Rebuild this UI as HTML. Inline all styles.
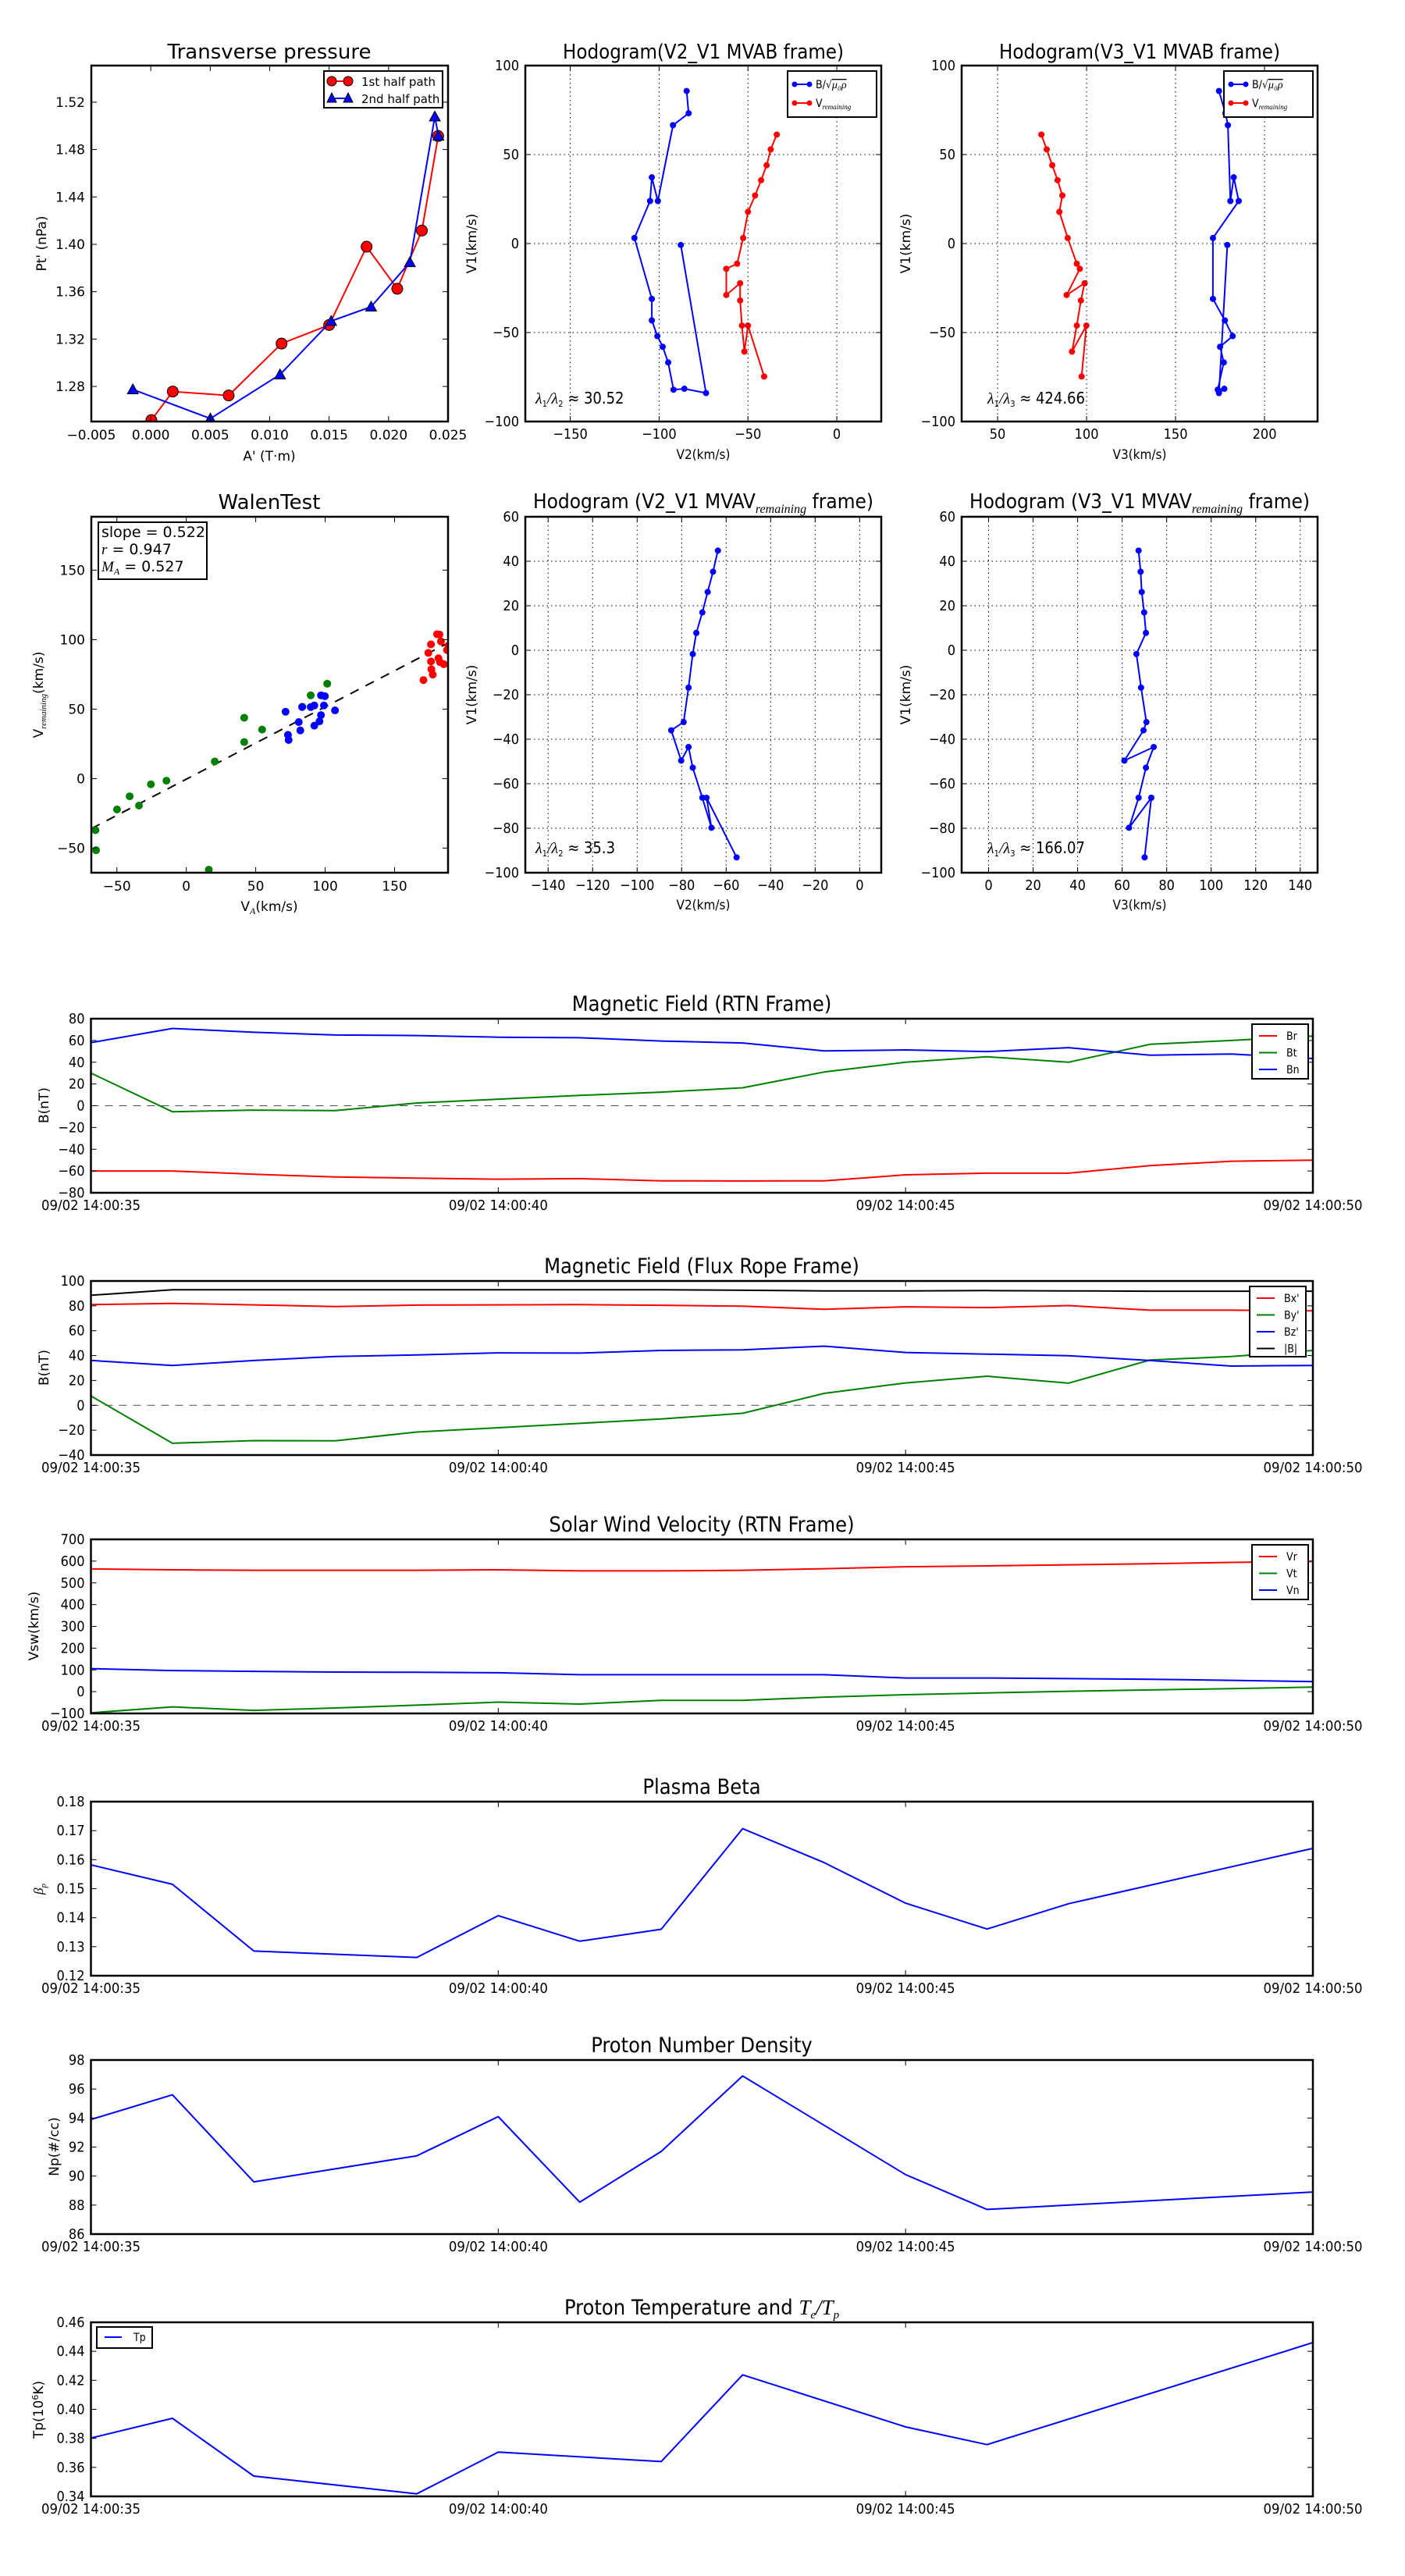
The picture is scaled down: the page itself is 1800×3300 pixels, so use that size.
<!DOCTYPE html>
<html><head><meta charset="utf-8">
<style>
html,body{margin:0;padding:0;background:#fff;}
svg{display:block;}
text{font-family:"DejaVu Sans","Liberation Sans",sans-serif;fill:#000;}
.n{font-family:"Liberation Sans Narrow","DejaVu Sans Condensed","Liberation Sans",sans-serif;}
.m{font-family:"Liberation Serif","DejaVu Serif",serif;font-style:italic;}
</style></head>
<body>
<svg id="fig" xmlns="http://www.w3.org/2000/svg" width="1800" height="3300" viewBox="0 0 1800 3300">
<rect x="0" y="0" width="1800" height="3300" fill="#fff"/>
</svg>
<script>
// ---------- Transverse pressure ----------
const tp1X=[0.00005,0.00185,0.00655,0.0110,0.0150,0.01815,0.02073,0.0228,0.02417];
const tp1Y=[1.2516,1.2757,1.2724,1.3162,1.3319,1.3980,1.3625,1.4116,1.4914];
const tp2X=[-0.00151,0.00501,0.01087,0.01517,0.01853,0.02179,0.02389,0.02419];
const tp2Y=[1.2775,1.2529,1.2901,1.3352,1.3473,1.3848,1.5078,1.4916];
const tpXTicks=[-0.005,0,0.005,0.01,0.015,0.02,0.025];
const tpXLabels=["\u22120.005","0.000","0.005","0.010","0.015","0.020","0.025"];
const tpYTicks=[1.28,1.32,1.36,1.40,1.44,1.48,1.52];
const tpYLabels=["1.28","1.32","1.36","1.40","1.44","1.48","1.52"];
// ---------- Hodogram MVAB ----------
const hbV1=[85.7,73.2,66.5,23.9,37.2,23.9,3.1,-31.1,-43.2,-52.0,-58.0,-66.8,-82.1,-81.6,-84.0,-0.8];
const hbV2=[-84.5,-83.4,-92.2,-100.7,-104.1,-105.1,-113.9,-104.1,-104.1,-101.0,-98.0,-94.9,-91.9,-85.8,-73.6,-87.8];
const hbV3=[174.4,178.0,179.4,180.8,182.7,185.5,171.0,171.0,177.7,182.1,175.0,177.1,173.7,177.4,174.4,179.1];
const hvV1=[61.2,52.9,44.0,35.6,27.0,17.8,3.1,-11.3,-14.2,-28.9,-22.3,-32.0,-46.1,-60.7,-46.1,-74.7];
const hvV2=[-33.8,-37.2,-39.5,-42.6,-46.0,-50.0,-52.7,-56.1,-62.2,-62.2,-54.4,-54.4,-53.4,-52.0,-50.0,-40.9];
const hvV3=[74.6,77.6,80.7,83.7,86.4,84.7,89.4,94.5,96.2,88.8,98.9,96.8,94.5,91.8,99.9,97.2];
// ---------- Hodogram MVAV ----------
const hrV1=[44.8,35.3,26.2,17.0,7.8,-1.7,-16.8,-32.3,-36.0,-49.6,-43.5,-52.8,-66.3,-79.8,-66.3,-93.1];
const hrV2=[-63.7,-65.9,-68.3,-70.7,-73.4,-75.0,-76.9,-79.1,-84.7,-80.2,-76.9,-75.0,-70.7,-66.6,-68.8,-55.3];
const hrV3=[67.4,68.3,68.8,69.9,70.7,66.4,68.5,70.9,69.6,61.0,74.2,70.7,67.4,63.1,73.1,70.1];
// ---------- Walen test ----------
const wGreenX=[-65.4,-65.0,-49.9,-40.8,-34.1,-25.5,-14.3,16.2,20.5,41.7,41.7,54.6,89.6,101.5,83.6];
const wGreenY=[-37.1,-51.5,-22.2,-12.7,-19.4,-4.1,-1.5,-65.5,12.3,43.8,26.3,35.3,59.9,68.3,51.7];
const wBlueX=[71.5,73.2,73.7,81.0,82.1,83.4,89.6,92.2,92.2,95.9,97.0,97.0,99.8,99.1,107.1];
const wBlueY=[48.1,31.5,27.8,40.7,34.7,51.5,51.5,52.6,38.1,41.2,45.7,59.9,59.3,52.6,49.1];
const wRedX=[170.8,174.3,176.2,176.5,177.5,176.2,180.6,182.3,181.6,182.7,183.4,185.5,187.7,188.8];
const wRedY=[70.9,90.5,96.6,78.7,74.8,84.3,103.9,103.7,86.6,83.8,98.7,82.3,92.5,95.7];
const wSlope=0.52, wIntercept=-0.4;
// ---------- time series ----------
const tSec=[35,36,37,38,39,40,41,42,43,44,45,46,47,48,49,50];
const timeTicks=[35,40,45,50];
const timeLabels=["09/02 14:00:35","09/02 14:00:40","09/02 14:00:45","09/02 14:00:50"];
const Br=[-60,-60,-63,-65.5,-66.5,-67.5,-67,-69,-69.2,-69,-63.5,-62,-62,-55,-51,-50];
const Bt=[30,-5.5,-4,-4.5,2.5,6,9.5,12.5,16.5,31,40,45,40,56.5,60,64];
const Bn=[58,71,67.5,65,64.5,63,62.5,59.5,57.7,50.4,51.3,49.8,53.4,46.4,47.6,43.4];
const Bx=[81,82,80.8,79.5,80.6,80.8,81,80.5,79.7,77.3,79.2,78.6,80.2,76.5,76.5,76];
const By=[7.5,-30.5,-28.4,-28.5,-21.5,-18,-14.5,-11,-6.4,9.6,18,23.4,17.8,36.4,39.3,44.1];
const Bz=[36.1,32.1,36,39.3,40.5,42.2,42,44.1,44.6,47.6,42.5,41.2,39.9,36,31.6,32.1];
const Bmag=[88.5,93,93,93,93,93,93,93,92.5,92,92,92.3,92,91.8,91.8,91.8];
const Vr=[564,560,558,558,558,560,555,555,558,565,574,578,583,588,594,599];
const Vt=[-97,-70,-86,-75,-62,-48,-57,-40,-40,-25,-14,-6,2,8,14,21];
const Vn=[106,97,93.5,90,89,87,78,78,78,78,63,63,60,57,52,46];
const betaT=[35,36,37,39,40,41,42,43,44,45,46,47,50];
const betaV=[0.1582,0.1515,0.1285,0.1263,0.1407,0.1319,0.1360,0.1707,0.1590,0.1450,0.1361,0.1448,0.1639];
const npT=[35,36,37,39,40,41,42,43,45,46,50];
const npV=[93.9,95.6,89.6,91.4,94.1,88.2,91.7,96.9,90.1,87.7,88.9];
const tpT=[35,36,37,39,40,42,43,45,46,50];
const tpV=[0.3802,0.3938,0.3540,0.3418,0.3705,0.3640,0.4238,0.3879,0.3757,0.4460];

const NS='http://www.w3.org/2000/svg';
const svg=document.getElementById('fig');
function el(tag,attrs,parent,name,inter){
  const e=document.createElementNS(NS,tag);
  for(const k in attrs) e.setAttribute(k,attrs[k]);
  
  
  (parent||svg).appendChild(e);
  return e;
}
function txt(str,x,y,opt,parent,name){
  const t=el('text',{x:x,y:y,'font-size':opt.fs||17,'text-anchor':opt.anchor||'middle'},parent,name,false);
  if(opt.cls) t.setAttribute('class',opt.cls);
  if(opt.rot) t.setAttribute('transform','rotate(-90 '+x+' '+y+')');
  if(opt.len){t.setAttribute('textLength',opt.len);t.setAttribute('lengthAdjust','spacingAndGlyphs');}
  if(opt.fill) t.setAttribute('fill',opt.fill);
  t.textContent=str;
  return t;
}
let clipN=0;
function axes(o){
  o.g=el('g',{},svg,o.name,false);
  o.sx=v=>o.L+(v-o.xmin)/(o.xmax-o.xmin)*(o.R-o.L);
  o.sy=v=>o.B-(v-o.ymin)/(o.ymax-o.ymin)*(o.B-o.T);
  const id='c'+(clipN++);
  const cp=el('clipPath',{id:id},o.g,'clip-region',false);
  el('rect',{x:o.L,y:o.T,width:o.R-o.L,height:o.B-o.T},cp,'clip-rect',false);
  o.data=el('g',{'clip-path':'url(#'+id+')'},o.g,'plot-area',false);
  return o;
}
function frame(o){
  el('rect',{x:o.L,y:o.T,width:o.R-o.L,height:o.B-o.T,fill:'none',stroke:'#000','stroke-width':2.5},o.g,'axes-frame',false);
}
function xticks(o,vals,labels,opt){
  const g=el('g',{},o.g,'x-axis',false);
  vals.forEach((v,i)=>{
    const x=o.sx(v);
    if(opt.grid) el('line',{x1:x,y1:o.T,x2:x,y2:o.B,stroke:'#000','stroke-width':1,'stroke-dasharray':'1.5,4'},g,'x-grid-line',false);
    el('line',{x1:x,y1:o.B,x2:x,y2:o.B-7,stroke:'#000','stroke-width':1},g,'x-tick',false);
    el('line',{x1:x,y1:o.T,x2:x,y2:o.T+7,stroke:'#000','stroke-width':1},g,'x-tick-top',false);
    txt(labels[i],x,o.B+(opt.dy||22),{fs:opt.fs||17,cls:opt.cls,len:opt.len},g,'x-tick-label');
  });
}
function yticks(o,vals,labels,opt){
  const g=el('g',{},o.g,'y-axis',false);
  vals.forEach((v,i)=>{
    const y=o.sy(v);
    if(opt.grid) el('line',{x1:o.L,y1:y,x2:o.R,y2:y,stroke:'#000','stroke-width':1,'stroke-dasharray':'1.5,4'},g,'y-grid-line',false);
    el('line',{x1:o.L,y1:y,x2:o.L+7,y2:y,stroke:'#000','stroke-width':1},g,'y-tick',false);
    el('line',{x1:o.R,y1:y,x2:o.R-7,y2:y,stroke:'#000','stroke-width':1},g,'y-tick-right',false);
    txt(labels[i],o.L-8,y+6,{fs:opt.fs||17,anchor:'end',cls:opt.cls},g,'y-tick-label');
  });
}
function line(o,xs,ys,color,name,w){
  const pts=xs.map((x,i)=>o.sx(x).toFixed(1)+','+o.sy(ys[i]).toFixed(1)).join(' ');
  return el('polyline',{points:pts,fill:'none',stroke:color,'stroke-width':w||2,'stroke-linejoin':'round'},o.data,name,false);
}
function dots(o,xs,ys,color,r,name,stroke){
  const g=el('g',{},o.data,name,false);
  xs.forEach((x,i)=>{
    const c=el('circle',{cx:o.sx(x),cy:o.sy(ys[i]),r:r,fill:color},g,name+'-point',false);
    if(stroke){c.setAttribute('stroke','#000');c.setAttribute('stroke-width',1);}
  });
}
function tris(o,xs,ys,color,s,name){
  const g=el('g',{},o.data,name,false);
  xs.forEach((x,i)=>{
    const cx=o.sx(x),cy=o.sy(ys[i]);
    el('polygon',{points:(cx)+','+(cy-s)+' '+(cx-s)+','+(cy+s*0.8)+' '+(cx+s)+','+(cy+s*0.8),fill:color,stroke:'#000','stroke-width':1},g,name+'-point',false);
  });
}
function range(a,b,s){const r=[];for(let v=a;v<=b+1e-9;v+=s)r.push(Math.round(v*1000)/1000);return r;}
function minus(v){return (v<0?'\u2212':'')+Math.abs(v);}

// ===== Transverse pressure =====
const A1=axes({name:'transverse-pressure-chart',L:117,R:574,T:84,B:540,xmin:-0.005,xmax:0.025,ymin:1.2504,ymax:1.5509});
xticks(A1,tpXTicks,tpXLabels,{fs:17,dy:23});
yticks(A1,tpYTicks,tpYLabels,{fs:17});
line(A1,tp1X,tp1Y,'#f00','first-half-path-line',2);
dots(A1,tp1X,tp1Y,'#f00',7,'first-half-path-markers',true);
line(A1,tp2X,tp2Y,'#00f','second-half-path-line',2);
tris(A1,tp2X,tp2Y,'#00f',7,'second-half-path-markers');
frame(A1);
txt('Transverse pressure',345,75,{fs:26},A1.g,'chart-title');
txt("A' (T\u00b7m)",345,590,{fs:17},A1.g,'x-axis-title');
txt("Pt' (nPa)",59,312,{fs:17,rot:true},A1.g,'y-axis-title');
{const lg=el('g',{},A1.g,'legend',false);
 el('rect',{x:415,y:91,width:152,height:47,fill:'#fff',stroke:'#000','stroke-width':2},lg,'legend-box',false);
 el('line',{x1:425,y1:104,x2:446,y2:104,stroke:'#f00','stroke-width':2},lg,'legend-line-first',false);
 el('circle',{cx:425,cy:104,r:6,fill:'#f00',stroke:'#000','stroke-width':1},lg,'legend-marker-first',false);
 el('circle',{cx:446,cy:104,r:6,fill:'#f00',stroke:'#000','stroke-width':1},lg,'legend-marker-first',false);
 txt('1st half path',463,110,{fs:15,anchor:'start'},lg,'legend-label-first');
 el('line',{x1:425,y1:126,x2:446,y2:126,stroke:'#00f','stroke-width':2},lg,'legend-line-second',false);
 el('polygon',{points:'425,119 419,131 431,131',fill:'#00f',stroke:'#000','stroke-width':1},lg,'legend-marker-second',false);
 el('polygon',{points:'446,119 440,131 452,131',fill:'#00f',stroke:'#000','stroke-width':1},lg,'legend-marker-second',false);
 txt('2nd half path',463,132,{fs:15,anchor:'start'},lg,'legend-label-second');}

// ===== Hodogram legend helper =====
function hodoLegend(o,x0,y0){
  const lg=el('g',{},o.g,'legend',false);
  el('rect',{x:x0,y:y0,width:114,height:59,fill:'#fff',stroke:'#000','stroke-width':2},lg,'legend-box',false);
  el('line',{x1:x0+9,y1:y0+17,x2:x0+28,y2:y0+17,stroke:'#00f','stroke-width':2},lg,'legend-line-b',false);
  el('circle',{cx:x0+9,cy:y0+17,r:3.5,fill:'#00f'},lg,'legend-marker-b',false);
  el('circle',{cx:x0+28,cy:y0+17,r:3.5,fill:'#00f'},lg,'legend-marker-b',false);
  const t=txt('',x0+36,y0+22,{fs:14,anchor:'start',cls:'n'},lg,'legend-label-b');
  t.innerHTML='B/\u221a<tspan class="m" text-decoration="overline">\u03bc\u2080\u03c1</tspan>';
  el('line',{x1:x0+9,y1:y0+41,x2:x0+28,y2:y0+41,stroke:'#f00','stroke-width':2},lg,'legend-line-v',false);
  el('circle',{cx:x0+9,cy:y0+41,r:3.5,fill:'#f00'},lg,'legend-marker-v',false);
  el('circle',{cx:x0+28,cy:y0+41,r:3.5,fill:'#f00'},lg,'legend-marker-v',false);
  const t2=txt('',x0+36,y0+46,{fs:14,anchor:'start',cls:'n'},lg,'legend-label-v');
  t2.innerHTML='V<tspan class="m" font-size="9" dy="3">remaining</tspan>';
}
function lambdaText(o,x,y,sub,val){
  const t=txt('',x,y,{fs:20,anchor:'start',cls:'n'},o.g,'eigenvalue-ratio');
  t.innerHTML='<tspan class="m">\u03bb</tspan><tspan font-size="11" dy="4">1</tspan><tspan dy="-4" class="m">/\u03bb</tspan><tspan font-size="11" dy="4">'+sub+'</tspan><tspan dy="-4"> \u2248 '+val+'</tspan>';
}

// ===== Hodogram V2_V1 MVAB =====
const H1=axes({name:'hodogram-v2-v1-mvab',L:673,R:1129,T:84,B:540,xmin:-175.3,xmax:25,ymin:-100,ymax:100});
xticks(H1,[-150,-100,-50,0],[-150,-100,-50,0].map(minus),{grid:true,fs:18,cls:'n',dy:22});
yticks(H1,[-100,-50,0,50,100],[-100,-50,0,50,100].map(minus),{grid:true,fs:18,cls:'n'});
line(H1,hbV2,hbV1,'#00f','b-hodogram-line',2);
dots(H1,hbV2,hbV1,'#00f',4,'b-hodogram-markers');
line(H1,hvV2,hvV1,'#f00','v-hodogram-line',2);
dots(H1,hvV2,hvV1,'#f00',4,'v-hodogram-markers');
frame(H1);
hodoLegend(H1,1009,91);
lambdaText(H1,686,517,'2','30.52');
txt('Hodogram(V2_V1 MVAB frame)',901,75,{fs:26,cls:'n',len:360},H1.g,'chart-title');
txt('V2(km/s)',901,588,{fs:17,cls:'n'},H1.g,'x-axis-title');
txt('V1(km/s)',610,312,{fs:17,rot:true},H1.g,'y-axis-title');

// ===== Hodogram V3_V1 MVAB =====
const H2=axes({name:'hodogram-v3-v1-mvab',L:1232,R:1688,T:84,B:540,xmin:29.8,xmax:229.8,ymin:-100,ymax:100});
xticks(H2,[50,100,150,200],['50','100','150','200'],{grid:true,fs:18,cls:'n',dy:22});
yticks(H2,[-100,-50,0,50,100],[-100,-50,0,50,100].map(minus),{grid:true,fs:18,cls:'n'});
line(H2,hbV3,hbV1,'#00f','b-hodogram-line',2);
dots(H2,hbV3,hbV1,'#00f',4,'b-hodogram-markers');
line(H2,hvV3,hvV1,'#f00','v-hodogram-line',2);
dots(H2,hvV3,hvV1,'#f00',4,'v-hodogram-markers');
frame(H2);
hodoLegend(H2,1568,91);
lambdaText(H2,1265,517,'3','424.66');
txt('Hodogram(V3_V1 MVAB frame)',1460,75,{fs:26,cls:'n',len:360},H2.g,'chart-title');
txt('V3(km/s)',1460,588,{fs:17,cls:'n'},H2.g,'x-axis-title');
txt('V1(km/s)',1166,312,{fs:17,rot:true},H2.g,'y-axis-title');

// ===== Walen test =====
const W=axes({name:'walen-test-chart',L:117,R:574,T:662,B:1118,xmin:-68.4,xmax:188.5,ymin:-67.7,ymax:188.4});
xticks(W,[-50,0,50,100,150],[-50,0,50,100,150].map(minus),{fs:17,dy:23});
yticks(W,[-50,0,50,100,150],[-50,0,50,100,150].map(minus),{fs:17});
el('line',{x1:W.sx(-68.4),y1:W.sy(wSlope*-68.4+wIntercept),x2:W.sx(188.5),y2:W.sy(wSlope*188.5+wIntercept),stroke:'#000','stroke-width':2,'stroke-dasharray':'12,10'},W.data,'fit-line',false);
dots(W,wGreenX,wGreenY,'#008000',5,'green-points');
dots(W,wBlueX,wBlueY,'#00f',5,'blue-points');
dots(W,wRedX,wRedY,'#f00',5,'red-points');
frame(W);
{const b=el('g',{},W.g,'fit-stats-box',false);
 el('rect',{x:126,y:669,width:139,height:73,fill:'#fff',stroke:'#000','stroke-width':2},b,'stats-box',false);
 txt('slope = 0.522',130,688,{fs:19,anchor:'start'},b,'slope-text');
 const r=txt('',130,710,{fs:19,anchor:'start'},b,'r-text'); r.innerHTML='<tspan class="m">r</tspan> = 0.947';
 const m=txt('',130,732,{fs:19,anchor:'start'},b,'ma-text'); m.innerHTML='<tspan class="m">M</tspan><tspan class="m" font-size="12" dy="4">A</tspan><tspan dy="-4"> = 0.527</tspan>';}
txt('WalenTest',345,652,{fs:26},W.g,'chart-title');
{const t=txt('',345,1167,{fs:17},W.g,'x-axis-title'); t.innerHTML='V<tspan class="m" font-size="12" dy="4">A</tspan><tspan dy="-4">(km/s)</tspan>';}
{const t=txt('',55,890,{fs:17,rot:true},W.g,'y-axis-title'); t.innerHTML='V<tspan class="m" font-size="11" dy="4">remaining</tspan><tspan dy="-4">(km/s)</tspan>';}

// ===== Hodogram MVAV =====
const H3=axes({name:'hodogram-v2-v1-mvav',L:673,R:1129,T:662,B:1118,xmin:-150.25,xmax:9.7,ymin:-100,ymax:60});
const h3x=range(-140,0,20);
xticks(H3,h3x,h3x.map(minus),{grid:true,fs:18,cls:'n',dy:22});
const h3y=range(-100,60,20);
yticks(H3,h3y,h3y.map(minus),{grid:true,fs:18,cls:'n'});
line(H3,hrV2,hrV1,'#00f','hodogram-line',2);
dots(H3,hrV2,hrV1,'#00f',4,'hodogram-markers');
frame(H3);
lambdaText(H3,686,1093,'2','35.3');
{const t=txt('',901,651,{fs:26,cls:'n'},H3.g,'chart-title'); t.innerHTML='Hodogram (V2_V1 MVAV<tspan class="m" font-size="16" dy="6">remaining</tspan><tspan dy="-6"> frame)</tspan>';}
txt('V2(km/s)',901,1165,{fs:17,cls:'n'},H3.g,'x-axis-title');
txt('V1(km/s)',610,890,{fs:17,rot:true},H3.g,'y-axis-title');

const H4=axes({name:'hodogram-v3-v1-mvav',L:1232,R:1688,T:662,B:1118,xmin:-12.1,xmax:147.8,ymin:-100,ymax:60});
const h4x=range(0,140,20);
xticks(H4,h4x,h4x.map(String),{grid:true,fs:18,cls:'n',dy:22});
yticks(H4,h3y,h3y.map(minus),{grid:true,fs:18,cls:'n'});
line(H4,hrV3,hrV1,'#00f','hodogram-line',2);
dots(H4,hrV3,hrV1,'#00f',4,'hodogram-markers');
frame(H4);
lambdaText(H4,1265,1093,'3','166.07');
{const t=txt('',1460,651,{fs:26,cls:'n'},H4.g,'chart-title'); t.innerHTML='Hodogram (V3_V1 MVAV<tspan class="m" font-size="16" dy="6">remaining</tspan><tspan dy="-6"> frame)</tspan>';}
txt('V3(km/s)',1460,1165,{fs:17,cls:'n'},H4.g,'x-axis-title');
txt('V1(km/s)',1166,890,{fs:17,rot:true},H4.g,'y-axis-title');

// ===== time series panels =====
function tpanel(name,T,ymin,ymax,yt,ylab,title,ylabelX){
  const o=axes({name:name,L:116.5,R:1682,T:T,B:T+223,xmin:35,xmax:50,ymin:ymin,ymax:ymax});
  xticks(o,timeTicks,timeLabels,{fs:18,cls:'n',dy:22,len:127});
  yticks(o,yt,ylab,{fs:18,cls:'n'});
  const t=txt('',899,T-10,{fs:27,cls:'n'},o.g,'chart-title'); t.innerHTML=title;
  return o;
}
function tlegend(o,x0,y0,names,colors,h){
  const lg=el('g',{},o.g,'legend',false);
  const w=72;
  el('rect',{x:x0,y:y0,width:w,height:h,fill:'#fff',stroke:'#000','stroke-width':2},lg,'legend-box',false);
  names.forEach((n,i)=>{
    const cy=y0+15+i*21.5;
    el('line',{x1:x0+9,y1:cy,x2:x0+32,y2:cy,stroke:colors[i],'stroke-width':2},lg,'legend-line',false);
    txt(n,x0+44,cy+5,{fs:14,anchor:'start',cls:'n'},lg,'legend-label');
  });
}
const zl=o=>el('line',{x1:o.L,y1:o.sy(0),x2:o.R,y2:o.sy(0),stroke:'#000','stroke-width':1,'stroke-dasharray':'10,8','stroke-opacity':0.7},o.data,'zero-line',false);

const P1=tpanel('magnetic-field-rtn-chart',1305,-80,80,range(-80,80,20),range(-80,80,20).map(minus),'Magnetic Field (RTN Frame)');
zl(P1);
line(P1,tSec,Br,'#f00','br-line');
line(P1,tSec,Bt,'#008000','bt-line');
line(P1,tSec,Bn,'#00f','bn-line');
frame(P1);
tlegend(P1,1604,1312,['Br','Bt','Bn'],['#f00','#008000','#00f'],70);
txt('B(nT)',62,1416,{fs:17,rot:true},P1.g,'y-axis-title');

const P2=tpanel('magnetic-field-flux-rope-chart',1641,-40,100,range(-40,100,20),range(-40,100,20).map(minus),'Magnetic Field (Flux Rope Frame)');
zl(P2);
line(P2,tSec,Bmag,'#000','bmag-line');
line(P2,tSec,Bx,'#f00','bx-line');
line(P2,tSec,By,'#008000','by-line');
line(P2,tSec,Bz,'#00f','bz-line');
frame(P2);
tlegend(P2,1601,1648,["Bx'","By'","Bz'",'|B|'],['#f00','#008000','#00f','#000'],90);
txt('B(nT)',62,1752,{fs:17,rot:true},P2.g,'y-axis-title');

const P3=tpanel('solar-wind-velocity-chart',1972,-100,700,range(-100,700,100),range(-100,700,100).map(minus),'Solar Wind Velocity (RTN Frame)');
line(P3,tSec,Vr,'#f00','vr-line');
line(P3,tSec,Vt,'#008000','vt-line');
line(P3,tSec,Vn,'#00f','vn-line');
frame(P3);
tlegend(P3,1604,1979,['Vr','Vt','Vn'],['#f00','#008000','#00f'],70);
txt('Vsw(km/s)',49,2083,{fs:17,rot:true},P3.g,'y-axis-title');

const P4=tpanel('plasma-beta-chart',2308,0.12,0.18,range(0.12,0.18,0.01),range(0.12,0.18,0.01).map(v=>v.toFixed(2)),'Plasma Beta');
line(P4,betaT,betaV,'#00f','beta-line');
frame(P4);
{const t=txt('',55,2420,{fs:17,rot:true,fill:'#555'},P4.g,'y-axis-title'); t.innerHTML='<tspan class="m">\u03b2</tspan><tspan class="m" font-size="11" dy="4">p</tspan>';}

const P5=tpanel('proton-density-chart',2639,86,98,range(86,98,2),range(86,98,2).map(String),'Proton Number Density');
line(P5,npT,npV,'#00f','density-line');
frame(P5);
txt('Np(#/cc)',75,2750,{fs:17,rot:true},P5.g,'y-axis-title');

const P6=tpanel('proton-temperature-chart',2975,0.34,0.46,range(0.34,0.46,0.02),range(0.34,0.46,0.02).map(v=>v.toFixed(2)),'Proton Temperature and <tspan class="m">T</tspan><tspan class="m" font-size="15" dy="5">e</tspan><tspan class="m" dy="-5">/T</tspan><tspan class="m" font-size="15" dy="5">p</tspan>');
line(P6,tpT,tpV,'#00f','temperature-line');
frame(P6);
{const lg=el('g',{},P6.g,'legend',false);
 el('rect',{x:124,y:2981,width:71,height:27,fill:'#fff',stroke:'#000','stroke-width':2},lg,'legend-box',false);
 el('line',{x1:134,y1:2994,x2:156,y2:2994,stroke:'#00f','stroke-width':2},lg,'legend-line',false);
 txt('Tp',171,2999,{fs:14,anchor:'start',cls:'n'},lg,'legend-label');}
{const t=txt('',55,3087,{fs:17,rot:true},P6.g,'y-axis-title'); t.innerHTML='Tp(10<tspan font-size="11" dy="-6">6</tspan><tspan dy="6">K)</tspan>';}
</script>
</body></html>
